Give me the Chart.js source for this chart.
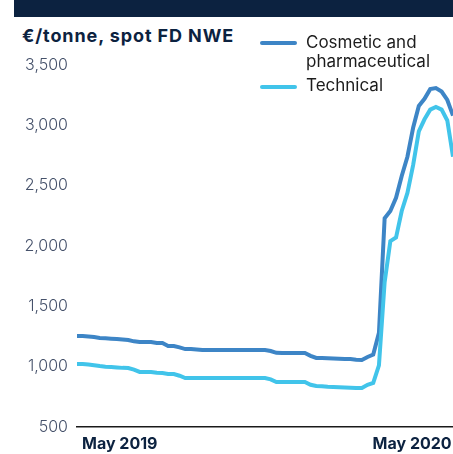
<!DOCTYPE html>
<html>
<head>
<meta charset="utf-8">
<script src="https://cdn.jsdelivr.net/npm/chart.js@4"></script>
<style>
  html, body { margin: 0; padding: 0; background: #fff; }
  #wrap { position: relative; width: 453px; height: 454px; overflow: hidden; font-family: Inter, "Open Sans", sans-serif; }
  #band { position: absolute; left: 14px; top: 0; width: 439px; height: 17px; background: #0c2240; }
  #title { position: absolute; left: 22px; top: 25px; font-size: 18px; letter-spacing: 0.9px; font-weight: 700; color: #0c2240; white-space: nowrap; }
  .leg { position: absolute; left: 260px; width: 37px; height: 4px; border-radius: 2px; }
  .legtxt { position: absolute; left: 306px; font-size: 17px; line-height: 19px; color: #1c1c1c; white-space: nowrap; }
  canvas { position: absolute; left: 0; top: 0; }
</style>
</head>
<body>
<div id="wrap">
  <div id="band"></div>
  <div id="title">€/tonne, spot FD NWE</div>
  <canvas id="chart" width="461" height="454"></canvas>
  <div class="leg" style="top:41px;background:#3d85c6"></div>
  <div class="legtxt" style="top:33px">Cosmetic and<br>pharmaceutical</div>
  <div class="leg" style="top:85px;background:#41c4ea"></div>
  <div class="legtxt" style="top:76px">Technical</div>
</div>
<script>
const seriesNames = ["Cosmetic and pharmaceutical", "Technical"];

const cosmetic = [
  1254, 1254, 1250, 1245, 1238, 1235, 1232, 1230, 1225, 1221,
  1210, 1204, 1204, 1204, 1196, 1196, 1171, 1171, 1160, 1146,
  1146, 1142, 1138, 1138, 1138, 1138, 1138, 1138, 1138, 1138,
  1138, 1138, 1138, 1138, 1130, 1115, 1113, 1113, 1113, 1113,
  1113, 1090, 1072, 1072, 1070, 1068, 1065, 1063, 1063, 1058,
  1055, 1080, 1100, 1280, 2230, 2290, 2400, 2580, 2740, 2980,
  3160, 3220, 3300, 3309, 3280, 3210, 3080,
];

const technical = [
  1022, 1022, 1018, 1012, 1005, 1000, 997, 993, 990, 989,
  975, 956, 956, 956, 950, 947, 940, 939, 925, 906,
  906, 906, 906, 906, 906, 906, 906, 906, 906, 906,
  906, 906, 906, 906, 895, 873, 873, 873, 873, 873,
  873, 850, 840, 838, 833, 831, 829, 827, 825, 823,
  823, 850, 865, 1010, 1700, 2040, 2070, 2290, 2440, 2670,
  2950, 3050, 3130, 3152, 3130, 3040, 2740,
];

// weekly categories, first week of May 2019 onwards
const weeks = [];
const start = new Date(2019, 4, 3);
for (let i = 0; i < cosmetic.length; i++) {
  const d = new Date(start.getTime() + i * 7 * 86400000);
  weeks.push(d.toISOString().slice(0, 10));
}

// only these categories get a visible tick label
const tickLabels = { 0: "May 2019", 51: "May 2020" };

new Chart(document.getElementById("chart"), {
  type: "line",
  data: {
    labels: weeks,
    datasets: [
      {
        label: seriesNames[0],
        data: cosmetic,
        borderColor: "#3d85c6",
        borderWidth: 4,
        pointRadius: 0,
        tension: 0,
        order: 1,
      },
      {
        label: seriesNames[1],
        data: technical,
        borderColor: "#41c4ea",
        borderWidth: 4,
        pointRadius: 0,
        tension: 0,
        order: 0,
      },
    ],
  },
  options: {
    responsive: false,
    animation: false,
    layout: { padding: { top: 65, right: 0, left: 0, bottom: 0 } },
    plugins: {
      legend: { display: false },
      tooltip: { enabled: false },
    },
    scales: {
      x: {
        offset: false,
        grid: { display: false, drawTicks: false },
        border: { display: true, color: "#1a1a1a", width: 1.5 },
        ticks: {
          autoSkip: false,
          maxRotation: 0,
          align: "start",
          labelOffset: 5,
          padding: 8,
          color: "#0c2240",
          font: { family: "Inter", size: 16, weight: "bold" },
          callback: (value, index) => tickLabels[index] || "",
        },
        afterFit: (scale) => { scale.height = 27; },
      },
      y: {
        min: 500,
        max: 3500,
        grid: { display: false, drawTicks: false },
        border: { display: false },
        ticks: {
          stepSize: 500,
          padding: 9,
          color: "#46526b",
          font: { family: "Inter", size: 16, weight: 300 },
          callback: (value) => value.toLocaleString("en-US"),
        },
        afterFit: (scale) => { scale.width = 77; },
      },
    },
  },
});
</script>
</body>
</html>
